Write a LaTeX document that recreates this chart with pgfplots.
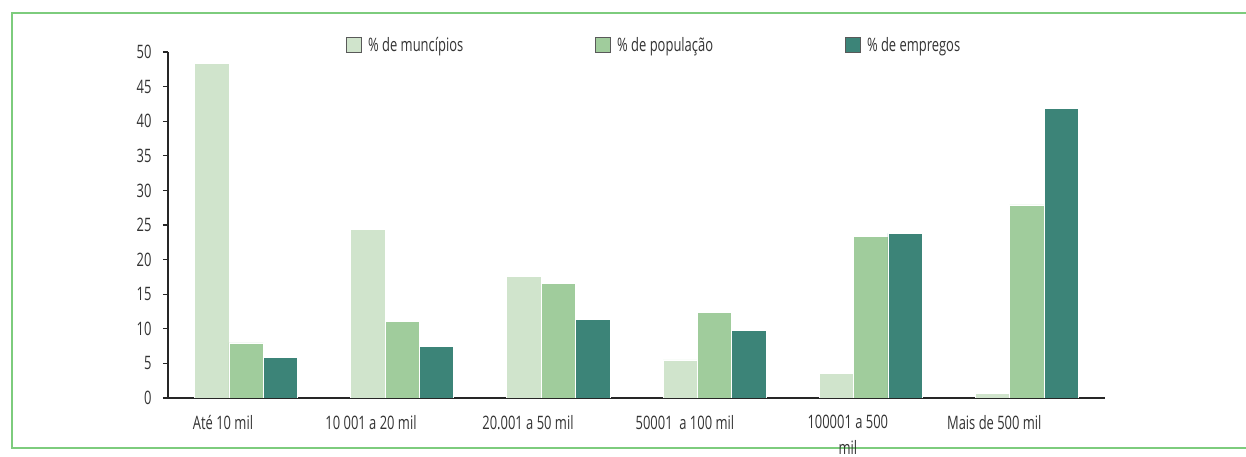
\documentclass[border=0pt]{standalone}
\usepackage{pgfplots}
\pgfplotsset{compat=1.18}
\usepackage{fontspec}
\setmainfont{Open Sans}[FakeStretch=0.7]
\definecolor{cA}{HTML}{D0E4CC}
\definecolor{cB}{HTML}{A0CC9C}
\definecolor{cC}{HTML}{3C8478}
\definecolor{frame}{HTML}{7DCC7D}
\definecolor{txt}{HTML}{333333}
\begin{document}
\begin{tikzpicture}
\useasboundingbox (-168pt,-59pt) rectangle (1078pt,398pt);
\draw[frame, line width=2pt] (1080pt,385pt) -- (-156pt,385pt) -- (-156pt,-50.5pt) -- (1080pt,-50.5pt);
\begin{axis}[at={(0,0)}, anchor=south west, scale only axis, width=937pt, height=346pt,
 ybar=0pt, bar width=0.22,
 xmin=-0.5, xmax=5.5, ymin=0, ymax=50,
 axis x line*=bottom, axis y line*=left,
 axis line style={line width=1.4pt, black!85},
 ytick={0,5,...,50}, tick align=outside, major tick length=5pt,
 ytick style={line width=1.2pt, black!85},
 xtick={-0.148,0.80,1.805,2.81,3.853,4.791},
 xticklabels={Até 10 mil, 10 001 a 20 mil, 20.001 a 50 mil, 50001\ \ a 100 mil, 100001 a 500\\mil, Mais de 500 mil},
 xtick style={draw=none},
 xticklabel style={align=center, yshift=-9pt},
 yticklabel style={xshift=-8pt},
 tick label style={font=\fontsize{18.5}{25.5}\selectfont, text=txt},
 /pgf/number format/assume math mode=true,
 legend style={at={(0.19,1.02)}, anchor=west, draw=none, fill=none, inner sep=0pt,
   font=\fontsize{18.5}{20}\selectfont, text=txt,
   /tikz/every odd column/.append style={column sep=4pt},
   /tikz/every even column/.append style={column sep=130pt}},
 legend columns=3, legend cell align=left,
 legend image code/.code={\draw[#1,draw=black!65,line width=0.9pt] (0pt,-7pt) rectangle (15pt,8pt);},
]
\addplot[fill=cA, draw=white, line width=0.8pt] coordinates {(0,48.3) (1,24.3) (2,17.5) (3,5.5) (4,3.6) (5,0.6)};
\addplot[fill=cB, draw=white, line width=0.8pt] coordinates {(0,7.95) (1,11.0) (2,16.6) (3,12.3) (4,23.4) (5,27.9)};
\addplot[fill=cC, draw=white, line width=0.8pt] coordinates {(0,5.9) (1,7.5) (2,11.4) (3,9.7) (4,23.8) (5,41.9)};
\legend{\% de muncípios, \% de população, \% de empregos}
\end{axis}
\end{tikzpicture}
\end{document}
